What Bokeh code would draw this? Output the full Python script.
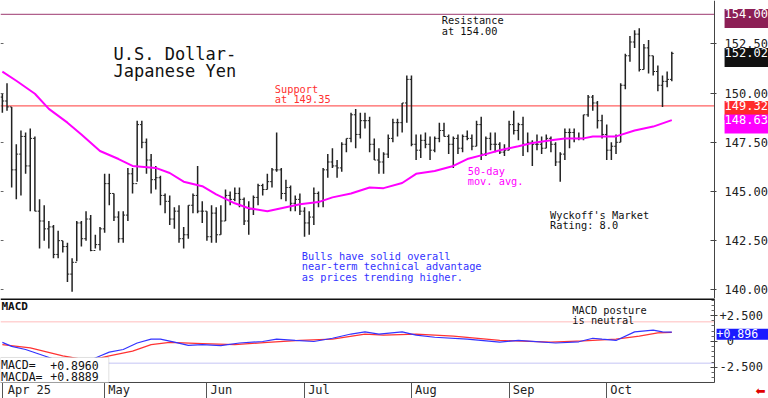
from bokeh.plotting import figure
from bokeh.models import Range1d, Label, BoxAnnotation, FixedTicker, PrintfTickFormatter, LinearAxis
from bokeh.layouts import column
from bokeh.embed import file_html
from bokeh.resources import INLINE

# ---------------- data ----------------
highs = [150.0, 150.5, 149.3, 147.4, 148.1, 148.0, 148.2, 147.8, 144.6, 144.3, 143.5, 143.3, 143.0, 142.5, 142.4, 141.6, 143.5, 143.5, 144.0, 143.8, 142.8, 143.2,
         145.9, 145.9, 144.9, 144.0, 144.0, 146.2, 146.2, 148.6, 148.6, 147.7, 146.9, 146.3, 145.8, 144.9, 144.8, 144.2, 144.3, 143.2, 144.3, 144.9, 146.3, 144.5,
         144.0, 144.3, 144.2, 144.3, 145.1, 145.0, 145.2, 145.2, 144.7, 144.5, 144.8, 145.4, 145.4, 145.9, 146.2, 148.0, 146.2, 145.6, 145.3, 144.8, 144.9,
         144.2, 144.0, 145.2, 145.0, 146.2, 146.9, 147.2, 146.6, 147.5, 147.7, 149.0, 149.2, 149.0, 149.0, 148.8, 147.7, 147.2, 147.0, 147.9, 148.7, 148.7, 149.5, 150.9,
         150.9, 147.9, 147.9, 148.0, 147.8, 147.8, 148.5, 148.5, 147.9, 147.8, 147.9, 147.9, 148.1, 147.9, 148.6, 148.8, 147.8, 148.0, 148.0, 147.5, 147.4,
         148.6, 149.1, 148.5, 148.8, 148.0, 147.6, 147.9, 147.8, 147.9, 147.8, 147.5, 147.0, 148.2, 148.2, 148.2, 148.0, 148.9, 149.9, 149.9, 149.6, 148.9,
         148.4, 147.5, 147.9, 150.5, 152.0, 152.9, 153.2, 153.3, 152.5, 152.7, 151.9, 151.4, 150.9, 151.1, 152.1]
lows = [149.0, 149.1, 145.2, 144.6, 144.8, 145.9, 144.0, 144.0, 142.1, 142.5, 142.1, 141.6, 141.6, 141.9, 140.4, 139.9, 141.45, 142.2, 142.5, 141.96, 142.1, 142.0,
        142.9, 144.3, 143.5, 142.4, 142.4, 143.5, 144.9, 145.5, 147.2, 145.9, 144.9, 145.1, 144.3, 143.9, 143.3, 143.1, 142.4, 142.1, 142.6, 143.9, 143.9, 143.4,
        142.5, 142.4, 142.4, 142.8, 143.5, 144.3, 144.5, 144.2, 143.3, 142.8, 143.8, 144.3, 144.8, 145.1, 145.2, 146.0, 144.6, 144.5, 144.0, 144.0, 143.8,
        142.7, 142.8, 143.3, 144.2, 144.2, 145.7, 146.2, 145.7, 146.0, 147.0, 147.5, 147.2, 147.7, 148.2, 147.0, 146.6, 145.9, 145.9, 146.7, 147.5, 147.8, 148.0, 148.5,
        147.3, 146.6, 146.7, 147.2, 146.6, 147.0, 147.5, 147.8, 146.9, 146.2, 146.9, 147.0, 147.6, 147.1, 147.3, 146.6, 146.8, 147.1, 147.0, 146.9, 146.8,
        147.1, 147.9, 147.6, 146.8, 147.0, 146.3, 147.1, 146.9, 147.2, 147.0, 146.3, 145.5, 146.6, 147.2, 147.5, 147.6, 147.6, 148.8, 149.1, 148.2, 147.7,
        146.6, 146.6, 146.9, 147.5, 150.2, 151.6, 152.3, 151.1, 151.2, 151.0, 150.9, 150.1, 149.3, 150.3, 150.6]
closes = [149.6, 149.3, 146.1, 146.9, 147.8, 146.3, 147.7, 144.0, 143.5, 143.1, 143.2, 141.8, 142.5, 142.2, 140.8, 141.4, 143.4, 142.6, 143.6, 142.0, 142.3, 143.1,
          145.4, 144.9, 143.7, 142.6, 143.8, 145.9, 145.4, 148.4, 147.5, 146.6, 145.6, 145.7, 144.8, 144.5, 143.6, 144.0, 142.6, 142.8, 144.3, 144.8, 144.0, 144.0,
          142.7, 143.9, 142.8, 143.5, 144.8, 144.6, 144.9, 144.6, 143.5, 144.1, 144.7, 145.3, 145.1, 145.5, 146.1, 146.1, 144.9, 145.2, 144.4, 144.6, 144.0,
          143.4, 143.7, 144.9, 144.5, 146.1, 146.5, 146.3, 146.2, 147.4, 147.7, 148.9, 147.9, 148.6, 148.6, 147.4, 146.6, 146.5, 146.9, 147.7, 148.5, 148.5, 149.5, 150.7,
          147.4, 147.1, 147.6, 147.4, 147.1, 147.7, 148.1, 147.8, 147.4, 147.7, 147.2, 147.8, 147.7, 147.3, 148.4, 146.9, 147.7, 147.4, 147.4, 147.0, 147.1,
          148.4, 148.1, 148.4, 147.4, 147.5, 147.4, 147.4, 147.2, 147.7, 147.4, 146.5, 146.9, 148.0, 148.0, 147.7, 147.7, 148.9, 149.8, 149.5, 148.6, 147.9,
          147.1, 147.3, 147.5, 150.4, 151.9, 152.6, 153.0, 151.2, 152.3, 151.9, 151.1, 150.4, 150.6, 150.7, 152.02]
first_open = 149.8
opens = [first_open] + closes[:-1]
bar_x = list(range(len(closes)))

# 50-day moving average (at bar positions)
ma_x = [0, 3, 7, 10, 14, 17, 21, 25, 28, 33, 36, 39, 43, 46, 50, 53, 57, 60, 64, 68, 71, 75, 79, 82,
        86, 89, 93, 97, 100, 104, 107, 111, 114, 118, 121, 125, 127, 132, 136, 140, 144]
ma_val = [151.09, 150.63, 149.97, 149.2, 148.5, 147.9, 147.06, 146.65, 146.3, 146.2, 145.94, 145.5, 145.27,
          144.85, 144.4, 144.15, 144.0, 144.15, 144.35, 144.46, 144.7, 144.9, 145.2, 145.17, 145.43, 145.9,
          146.04, 146.3, 146.65, 146.9, 147.1, 147.3, 147.47, 147.6, 147.7, 147.7, 147.8, 147.8, 148.1, 148.3, 148.63]

# MACD (blue) and MACDA signal (red)
macd_x = [0, 2, 5, 8, 11, 14, 17, 19, 21, 23, 26, 29, 32, 34, 37, 40, 43, 47, 51, 56, 59, 63, 67, 71, 75,
          78, 81, 86, 89, 93, 100, 107, 111, 119, 124, 127, 129, 132, 136, 140, 142, 144]
macd_val = [-0.09, -0.47, -0.78, -1.24, -1.7, -2.0, -2.1, -1.8, -1.4, -1.03, -0.78, -0.15, 0.22, 0.22, -0.06,
            -0.37, -0.31, -0.4, -0.15, 0.0, 0.22, 0.1, 0.0, 0.31, 0.72, 0.93, 0.72, 0.93, 0.62, 0.41, 0.22,
            -0.06, 0.1, -0.15, -0.03, 0.31, 0.22, 0.1, 0.93, 1.09, 0.93, 0.896]
sig_x = [0, 6, 13, 17, 20, 23, 28, 32, 36, 43, 50, 57, 64, 71, 78, 82, 89, 97, 107, 118, 125, 132, 137, 141, 144]
sig_val = [-0.31, -0.62, -1.4, -1.7, -1.7, -1.4, -0.93, -0.31, -0.09, -0.2, -0.31, -0.09, 0.1, 0.22, 0.72,
           0.62, 0.72, 0.52, 0.1, -0.06, 0.06, 0.22, 0.52, 0.83, 0.889]

month_labels = ["Apr 25", "May", "Jun", "Jul", "Aug", "Sep", "Oct"]
month_x = [0, 22, 44, 65, 88, 109, 130]
price_ticks = [140.0, 142.5, 145.0, 147.5, 150.0, 152.5]
macd_ticks = [-2.5, 0.0, 2.5]
macd_minor = [-3.5, -3.0, -2.0, -1.5, -1.0, -0.5, 0.5, 1.0, 1.5, 2.0, 3.0, 3.5, 4.0]

resistance = 154.00
support = 149.35
last_price = 152.02
support_tag = 149.32
ma_last = 148.63
macd_last = 0.896
macd_hi_line = 1.9
macd_lo_line = -2.1

FONT = "DejaVu Sans Mono"
NB = "\u00a0"
X0, X1 = -0.4, 164.8          # frame spans the whole width, axis sits inside it
AXIS = 153.2                  # bar-index position of the right price axis
MACD_TOP, MACD_BOT = 4.16, -3.97
XR = Range1d(X0, X1)
W = 768

# ---------------- price panel ----------------
p1 = figure(width=W, height=298, x_range=XR, y_range=Range1d(139.56, 154.71),
            y_axis_location="right", x_axis_location=None, toolbar_location=None,
            output_backend="svg", min_border_left=0, min_border_right=0,
            min_border_top=0, min_border_bottom=0)
p1.outline_line_color = None
p1.grid.visible = False
ax = p1.yaxis[0]
ax.fixed_location = AXIS
ax.ticker = FixedTicker(ticks=price_ticks)
ax.formatter = PrintfTickFormatter(format="%.2f")
ax.axis_line_color = "#444444"
ax.major_tick_line_color = "#444444"
ax.major_tick_in = 4
ax.major_tick_out = 2
ax.minor_tick_line_color = None
ax.major_label_text_font = FONT
ax.major_label_text_font_size = "12px"
ax.major_label_text_color = "#222222"
ax.major_label_standoff = 8

left_ax = LinearAxis(fixed_location=X0, ticker=FixedTicker(ticks=price_ticks), axis_line_color=None,
                     major_tick_in=3, major_tick_out=0, major_tick_line_color="#666666",
                     minor_tick_line_color=None, major_label_text_color=None)
p1.add_layout(left_ax, "left")

p1.segment(x0=[X0], y0=[resistance], x1=[AXIS], y1=[resistance], line_color="#b0608c", line_width=1.2)
p1.segment(x0=[X0], y0=[support], x1=[AXIS], y1=[support], line_color="#ff6060", line_width=1.2)

bar_col = "#222222"
p1.segment(x0=bar_x, y0=lows, x1=bar_x, y1=highs, line_color=bar_col, line_width=1.5)
p1.segment(x0=[i - 0.4 for i in bar_x], y0=opens, x1=bar_x, y1=opens, line_color=bar_col, line_width=1)
p1.segment(x0=bar_x, y0=closes, x1=[i + 0.4 for i in bar_x], y1=closes, line_color=bar_col, line_width=1)
p1.line(ma_x, ma_val, line_color="#ff00ff", line_width=2)


def txt(fig, x, y, s, color="#111111", size="10.3px", dy=3, **kw):
    fig.add_layout(Label(x=x, y=y, text=s, text_color=color, text_font=FONT, y_offset=dy,
                         text_font_size=size, text_baseline="alphabetic", **kw))


txt(p1, 23.9, 151.81, "U.S. Dollar-", size="17px", dy=4)
txt(p1, 23.9, 150.94, "Japanese Yen", size="17px", dy=4)
txt(p1, 58.6, 150.04, "Support", color="#ff3030")
txt(p1, 58.6, 149.53, "at 149.35", color="#ff3030")
txt(p1, 94.5, 153.56, "Resistance")
txt(p1, 94.5, 153.02, "at 154.00")
txt(p1, 100.1, 145.90, "50-day", color="#ff00ff")
txt(p1, 100.1, 145.36, "mov. avg.", color="#ff00ff")
txt(p1, 117.8, 143.66, "Wyckoff's Market")
txt(p1, 117.8, 143.15, "Rating: 8.0")
txt(p1, 64.4, 141.59, "Bulls have solid overall", color="#3333ff")
txt(p1, 64.4, 141.04, "near-term technical advantage", color="#3333ff")
txt(p1, 64.4, 140.50, "as prices trending higher.", color="#3333ff")


def tag(fig, y, s, bg, dx=10, dy=-4, pad=(0, 8, 0, 10), size="12px"):
    fig.add_layout(Label(x=AXIS, y=y, text=s, text_color="white", text_font=FONT,
                         text_font_size=size, text_baseline="middle", text_align="left",
                         x_offset=dx, y_offset=dy, background_fill_color=bg, padding=pad))


tag(p1, resistance, "154.00", "#8c1f55")
tag(p1, last_price, "152.02", "#111111")
tag(p1, support_tag, "149.32", "#ff2a2a")
tag(p1, ma_last, "148.63", "#ff00ff")

# ---------------- MACD panel ----------------
p2 = figure(width=W, height=100, x_range=XR, y_range=Range1d(-5.52, MACD_TOP),
            y_axis_location="right", toolbar_location=None, output_backend="svg",
            min_border_left=0, min_border_right=0, min_border_top=0, min_border_bottom=0)
p2.outline_line_color = None
p2.grid.visible = False
ay = p2.yaxis[0]
ay.fixed_location = AXIS
ay.bounds = (MACD_BOT, MACD_TOP)
ay.ticker = FixedTicker(ticks=macd_ticks, minor_ticks=macd_minor)
ay.major_label_overrides = {-2.5: "-2.500", 0.0: NB + "0", 2.5: "+2.500"}
ay.axis_line_color = "#444444"
ay.major_tick_line_color = "#444444"
ay.minor_tick_line_color = "#666666"
ay.major_tick_in = 4
ay.major_tick_out = 3
ay.minor_tick_in = 3
ay.minor_tick_out = 0
ay.major_label_text_font = FONT
ay.major_label_text_font_size = "12px"
ay.major_label_text_color = "#222222"
ay.major_label_standoff = 2

axx = p2.xaxis[0]
axx.fixed_location = MACD_BOT
axx.ticker = FixedTicker(ticks=month_x)
axx.major_label_overrides = {mx: (NB * (len(ml) + 1) + ml if i > 0 else NB + ml)
                             for i, (mx, ml) in enumerate(zip(month_x, month_labels))}
axx.axis_line_color = None
axx.major_tick_in = 0
axx.major_tick_out = 16
axx.major_tick_line_color = "#555555"
axx.minor_tick_line_color = None
axx.major_label_text_font = FONT
axx.major_label_text_font_size = "12px"
axx.major_label_text_color = "#222222"
axx.major_label_standoff = -15

# panel borders and the two reference levels
p2.segment(x0=[X0], y0=[MACD_TOP], x1=[AXIS], y1=[MACD_TOP], line_color="#111111", line_width=3)
p2.segment(x0=[X0], y0=[MACD_BOT], x1=[AXIS], y1=[MACD_BOT], line_color="#444444", line_width=1)
p2.segment(x0=[X0], y0=[macd_hi_line], x1=[AXIS], y1=[macd_hi_line], line_color="#ffbcbc", line_width=1)
p2.segment(x0=[X0], y0=[macd_lo_line], x1=[AXIS], y1=[macd_lo_line], line_color="#c4c4f4", line_width=1)
p2.line(sig_x, sig_val, line_color="#ff3333", line_width=1.2)
p2.line(macd_x, macd_val, line_color="#3333ff", line_width=1.2)

p2.add_layout(BoxAnnotation(left=X0, right=22.9, bottom=MACD_BOT, top=-1.55, fill_color="white",
                            fill_alpha=1.0, line_color="#999999", line_width=1))
txt(p2, -0.3, -2.49, "MACD=", size="11.5px", dy=2)
txt(p2, 10.3, -2.49, "+0.8960", size="11.5px", dy=2)
txt(p2, -0.3, -3.61, "MACDA=", size="11.5px", dy=2)
txt(p2, 10.3, -3.61, "+0.8889", size="11.5px", dy=2)
txt(p2, -0.2, 3.09, "MACD", size="11px", text_font_style="bold")
txt(p2, 122.6, 2.78, "MACD posture")
txt(p2, 122.6, 1.77, "is neutral")
tag(p2, macd_last, "+0.896", "#1a1aff", dx=2, dy=-2, pad=(0, 12, 0, 2), size="11.5px")

p2.add_layout(Label(x=162.0, y=-4.75, text="\u2b05", text_font="DejaVu Sans",
                    text_font_size="12px", text_color="#e00000", text_baseline="middle",
                    text_align="left"))

layout = column(p1, p2, spacing=0)
open("out.html", "w").write(file_html(layout, INLINE))
